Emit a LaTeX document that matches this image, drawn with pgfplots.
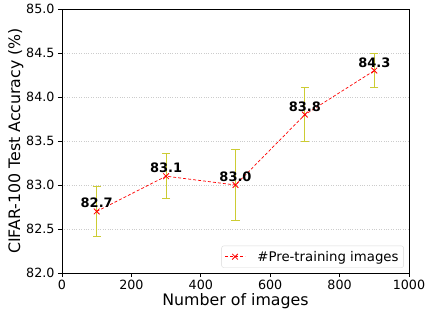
\documentclass[border=0pt]{standalone}
\usepackage{pgfplots}
\pgfplotsset{compat=1.18}
\usepackage{fontspec}
\setmainfont{DejaVu Sans}
\definecolor{ebar}{rgb}{0.8,0.8,0.2}
\begin{document}
\begin{tikzpicture}
\begin{axis}[
  at={(0,0)}, anchor=south west,
  scale only axis, width=347pt, height=264pt,
  xmin=0, xmax=1000, ymin=82, ymax=85,
  xtick={0,200,400,600,800,1000},
  ytick={82,82.5,83,83.5,84,84.5,85},
  xticklabel style={/pgf/number format/.cd,1000 sep={}},
  yticklabel style={/pgf/number format/.cd,fixed,fixed zerofill,precision=1},
  /pgf/number format/assume math mode=true,
  ticklabel style={font=\fontsize{12.7}{14}\selectfont},
  xlabel={Number of images}, ylabel={CIFAR-100 Test Accuracy (\%)},
  label style={font=\fontsize{15.8}{18}\selectfont},
  xlabel style={yshift=4pt},
  ylabel style={yshift=-4pt},
  tick align=outside, xtick pos=left, ytick pos=left,
  major tick length=4pt,
  tick style={black, line width=0.8pt},
  axis line style={line width=0.8pt},
  ymajorgrids, grid style={dotted, gray!40, line width=0.5pt},
  legend style={font=\fontsize{13.3}{15}\selectfont, draw=gray!30, rounded corners=2pt, inner sep=3pt, at={(0.985,0.02)}, anchor=south east,
    /tikz/every odd column/.append style={column sep=10pt}},
  legend image code/.code={\draw[#1, mark repeat=2, mark phase=2] plot coordinates {(0pt,0pt) (10pt,0pt) (20pt,0pt)};},
  legend cell align=left,
]
\addplot[draw=none, forget plot, mark=none,
  error bars/.cd, y dir=both, y explicit,
  error bar style={ebar, line width=1pt},
  error mark options={ebar, line width=1pt, mark size=4pt, rotate=90}]
  coordinates {
  (100,82.70) +- (0,0.28)
  (300,83.10) +- (0,0.255)
  (500,83.00) +- (0,0.405)
  (700,83.80) +- (0,0.31)
  (900,84.30) +- (0,0.19)
  };
\addplot[red, densely dashed, line width=0.7pt, mark=x, mark size=4pt, mark options={solid, line width=0.8pt},
  nodes near coords, point meta=explicit symbolic,
  nodes near coords style={font=\fontsize{13}{15}\selectfont\bfseries, text=black, anchor=south, inner sep=0pt, yshift=3pt}]
  coordinates {
  (100,82.7) [82.7]
  (300,83.1) [83.1]
  (500,83.0) [83.0]
  (700,83.8) [83.8]
  (900,84.3) [84.3]
  };
\addlegendentry{\#Pre-training images}
\end{axis}
\pgfresetboundingbox
\path[use as bounding box] (-62pt,-38pt) rectangle (364pt,273pt);
\end{tikzpicture}
\end{document}
